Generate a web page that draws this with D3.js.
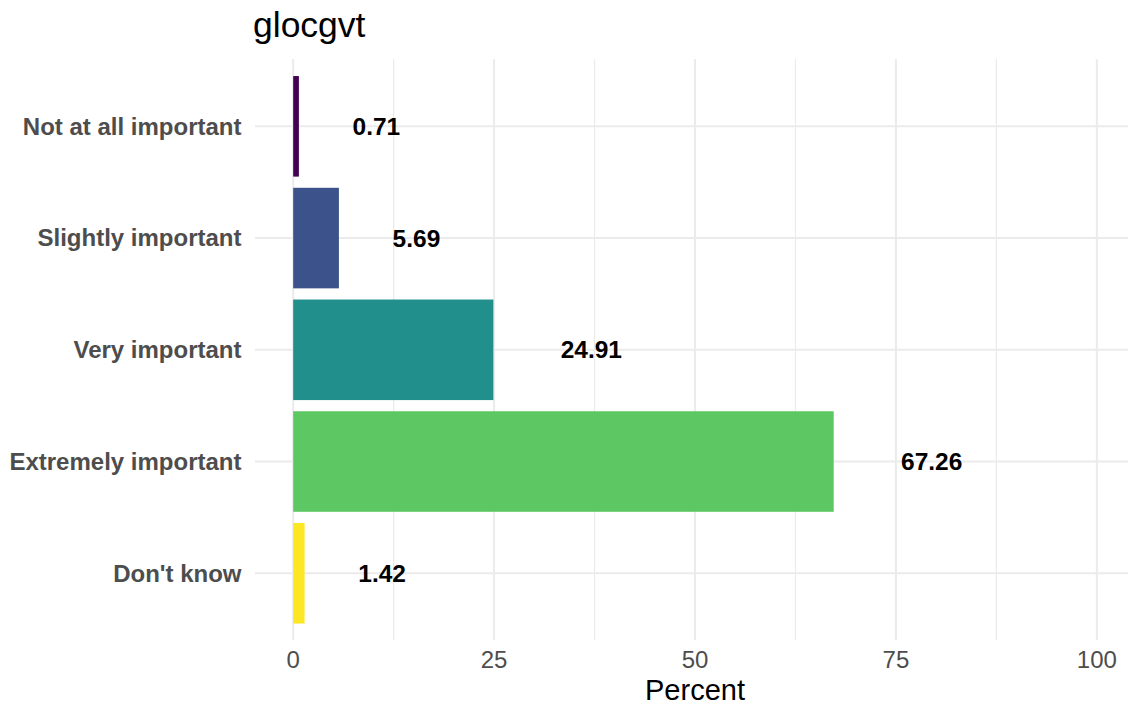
<!DOCTYPE html>
<html>
<head>
<meta charset="utf-8">
<script src="https://cdn.jsdelivr.net/npm/d3@7"></script>
<style>
  body { margin: 0; background: #fff; }
  svg { display: block; font-family: "Liberation Sans", Arial, sans-serif; }
</style>
</head>
<body>
<svg id="chart" width="1128" height="711"></svg>
<script>
const title = "glocgvt";
const categories = ["Not at all important", "Slightly important", "Very important", "Extremely important", "Don't know"];
const values = [0.71, 5.69, 24.91, 67.26, 1.42];
const labels = ["0.71", "5.69", "24.91", "67.26", "1.42"];
const colors = ["#440154", "#3B528B", "#21908C", "#5DC863", "#FDE725"];
const xTicks = [0, 25, 50, 75, 100];
const xMinor = [12.5, 37.5, 62.5, 87.5];
const xTitle = "Percent";

const svg = d3.select("#chart");
const panel = { left: 255, right: 1137, top: 59.3, bottom: 640.3 };

const x = d3.scaleLinear().domain([-5, 105]).range([panel.left - 2, panel.right]);
const y = d3.scalePoint().domain(categories).range([panel.top, panel.bottom]).padding(0.6);
const barH = y.step() * 0.9;

const grid = svg.append("g");
grid.selectAll("line.minor").data(xMinor).enter().append("line")
  .attr("x1", d => x(d)).attr("x2", d => x(d))
  .attr("y1", panel.top).attr("y2", panel.bottom)
  .attr("stroke", "#EBEBEB").attr("stroke-width", 1.2);
grid.selectAll("line.majx").data(xTicks).enter().append("line")
  .attr("x1", d => x(d)).attr("x2", d => x(d))
  .attr("y1", panel.top).attr("y2", panel.bottom)
  .attr("stroke", "#EBEBEB").attr("stroke-width", 2);
grid.selectAll("line.majy").data(categories).enter().append("line")
  .attr("x1", panel.left).attr("x2", 1128)
  .attr("y1", d => y(d)).attr("y2", d => y(d))
  .attr("stroke", "#EBEBEB").attr("stroke-width", 2);

svg.append("g").selectAll("rect").data(categories).enter().append("rect")
  .attr("x", x(0))
  .attr("y", d => y(d) - barH / 2)
  .attr("width", (d, i) => x(values[i]) - x(0))
  .attr("height", barH)
  .attr("fill", (d, i) => colors[i]);

const vl = svg.append("g").selectAll("text").data(categories).enter().append("text")
  .attr("y", d => y(d) + 8.6)
  .attr("font-size", 24.5).attr("font-weight", "bold").attr("fill", "#000")
  .text((d, i) => labels[i]);
vl.each(function(d, i) {
  const w = this.getComputedTextLength();
  d3.select(this).attr("x", x(values[i]) + w + 6);
});

svg.append("g").selectAll("text").data(categories).enter().append("text")
  .attr("x", 241.5).attr("y", d => y(d) + 8.4)
  .attr("text-anchor", "end")
  .attr("font-size", 24).attr("font-weight", "bold").attr("fill", "#4D4D4D")
  .text(d => d);

svg.append("g").selectAll("text").data(xTicks).enter().append("text")
  .attr("x", d => x(d)).attr("y", 668)
  .attr("text-anchor", "middle")
  .attr("font-size", 24).attr("fill", "#4D4D4D")
  .text(d => d);

svg.append("text").attr("x", x(50)).attr("y", 700)
  .attr("text-anchor", "middle").attr("font-size", 29).attr("fill", "#000")
  .text(xTitle);

svg.append("text").attr("x", 253).attr("y", 37)
  .attr("font-size", 35.5).attr("fill", "#000")
  .text(title);
</script>
</body>
</html>
